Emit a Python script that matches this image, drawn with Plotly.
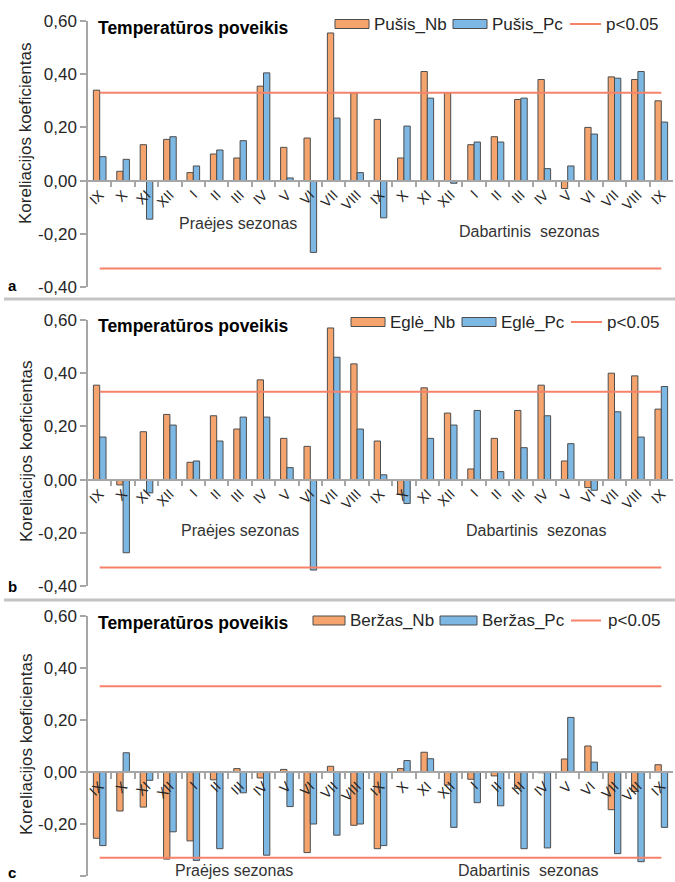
import plotly.graph_objects as go

# ---------------- data ----------------
MONTHS = ["IX", "X", "XI", "XII", "I", "II", "III", "IV", "V", "VI", "VII", "VIII",
          "IX", "X", "XI", "XII", "I", "II", "III", "IV", "V", "VI", "VII", "VIII", "IX"]

PUSIS_NB = [0.34, 0.035, 0.135, 0.155, 0.03, 0.10, 0.085, 0.355, 0.125, 0.16, 0.555, 0.33,
            0.23, 0.085, 0.41, 0.33, 0.135, 0.165, 0.305, 0.38, -0.03, 0.20, 0.39, 0.38, 0.30]
PUSIS_PC = [0.09, 0.08, -0.145, 0.165, 0.055, 0.115, 0.15, 0.405, 0.01, -0.27, 0.235, 0.03,
            -0.14, 0.205, 0.31, -0.01, 0.145, 0.145, 0.31, 0.045, 0.055, 0.175, 0.385, 0.41, 0.22]

EGLE_NB = [0.355, -0.02, 0.18, 0.245, 0.065, 0.24, 0.19, 0.375, 0.155, 0.125, 0.57, 0.435,
           0.145, -0.055, 0.345, 0.25, 0.04, 0.155, 0.26, 0.355, 0.07, -0.03, 0.40, 0.39, 0.265]
EGLE_PC = [0.16, -0.275, -0.05, 0.205, 0.07, 0.145, 0.235, 0.235, 0.045, -0.34, 0.46, 0.19,
           0.018, -0.09, 0.155, 0.205, 0.26, 0.03, 0.12, 0.24, 0.135, -0.04, 0.255, 0.16, 0.35]

BERZAS_NB = [-0.255, -0.15, -0.135, -0.335, -0.265, -0.03, 0.013, -0.023, 0.01, -0.31, 0.022, -0.205,
             -0.295, 0.013, 0.076, -0.05, -0.028, -0.015, -0.063, -0.003, 0.05, 0.10, -0.145, -0.075, 0.028]
BERZAS_PC = [-0.283, 0.074, -0.032, -0.23, -0.34, -0.295, -0.08, -0.32, -0.133, -0.20, -0.243, -0.20,
             -0.283, 0.044, 0.051, -0.213, -0.118, -0.13, -0.295, -0.292, 0.21, 0.038, -0.314, -0.345, -0.213]

P_CRIT = 0.33

Y_TICKVALS = [-0.4, -0.2, 0.0, 0.2, 0.4, 0.6]
Y_TICKTEXT = ["-0,40", "-0,20", "0,00", "0,20", "0,40", "0,60"]

PANEL_TITLE = "Temperatūros poveikis"
Y_TITLE = "Koreliacijos koeficientas"
SEASON_PREV = "Praėjes sezonas"
SEASON_CUR = "Dabartinis  sezonas"
PANEL_LETTERS = ["a", "b", "c"]
SERIES_NAMES = [("Pušis_Nb", "Pušis_Pc"), ("Eglė_Nb", "Eglė_Pc"), ("Beržas_Nb", "Beržas_Pc")]
SERIES_VALUES = [(PUSIS_NB, PUSIS_PC), (EGLE_NB, EGLE_PC), (BERZAS_NB, BERZAS_PC)]
LINE_NAME = "p<0.05"

# ---------------- style / layout ----------------
W, H = 675, 882
FONT = "Liberation Sans, Arial, sans-serif"
ORANGE = "#F4A46C"
BLUE = "#7DB7E4"
EDGE = "#4D4D4D"
RED = "#F7826A"
AXIS = "#A6A6A6"
TXT = "#262626"
Y_MIN, Y_MAX = -0.4, 0.6

# pixel rows (top, bottom) of each plot area
PANEL_PX = [(21, 287), (320, 586), (616, 876)]
X_DOM = [88 / W, 673 / W]


def py(p):
    return 1 - p / H


def px(p):
    return p / W


fig = go.Figure()
n = len(MONTHS)
xs = list(range(n))

layout_axes = {}
for i, ((top, bot), (nb_name, pc_name), (nb, pc)) in enumerate(zip(PANEL_PX, SERIES_NAMES, SERIES_VALUES)):
    k = "" if i == 0 else str(i + 1)
    xa, ya = "x" + k, "y" + k
    dom = [py(bot), py(top)]
    zero_pos = dom[0] + (0 - Y_MIN) / (Y_MAX - Y_MIN) * (dom[1] - dom[0])

    fig.add_trace(go.Bar(x=xs, y=nb, name=nb_name, marker=dict(color=ORANGE, line=dict(color=EDGE, width=1)),
                         xaxis=xa, yaxis=ya, showlegend=False))
    fig.add_trace(go.Bar(x=xs, y=pc, name=pc_name, marker=dict(color=BLUE, line=dict(color=EDGE, width=1)),
                         xaxis=xa, yaxis=ya, showlegend=False))
    fig.add_trace(go.Scatter(x=xs, y=[P_CRIT] * n, mode="lines", line=dict(color=RED, width=2),
                             xaxis=xa, yaxis=ya, showlegend=False, name=LINE_NAME))
    fig.add_trace(go.Scatter(x=xs, y=[-P_CRIT] * n, mode="lines", line=dict(color=RED, width=2),
                             xaxis=xa, yaxis=ya, showlegend=False, name=LINE_NAME))

    layout_axes["xaxis" + k] = dict(
        domain=X_DOM, range=[-0.5, n - 0.5], anchor="free", position=zero_pos, automargin=False,
        tickmode="array", tickvals=xs, ticktext=MONTHS, tickangle=-45,
        ticks="", showline=True, linecolor=AXIS, linewidth=1.5, showgrid=False, zeroline=False,
        tickfont=dict(family=FONT, size=14, color=TXT),
        minor=dict(tickmode="array", tickvals=[j + 0.5 for j in range(n - 1)],
                   ticks="outside", ticklen=6, tickcolor=AXIS, tickwidth=1.5, showgrid=False),
    )
    layout_axes["yaxis" + k] = dict(
        domain=dom, range=[Y_MIN, Y_MAX], anchor=xa, automargin=False,
        tickmode="array", tickvals=Y_TICKVALS, ticktext=Y_TICKTEXT,
        ticks="outside", ticklen=6, tickcolor=AXIS, tickwidth=1.5,
        showline=True, linecolor=AXIS, linewidth=1.5, showgrid=False, zeroline=False,
        tickfont=dict(family=FONT, size=17, color=TXT),
    )

fig.update_layout(**layout_axes)

ann = []
shapes = []

# panel titles, y titles, letters, season labels
TITLE_Y = [28, 326, 623]
YTITLE_Y = [134, 452, 745]
LETTER_Y = [285, 586, 872]
SEASON_Y = [(223, 232), (530, 530), (870, 870)]
SEASON_X = [(238, 529), (240, 536), (234, 528)]
for i in range(3):
    ann.append(dict(text=PANEL_TITLE, x=px(96), y=py(TITLE_Y[i]), xref="paper", yref="paper",
                    xanchor="left", yanchor="middle", showarrow=False,
                    font=dict(family=FONT, size=17.5, color="#000", weight="bold")))
    ann.append(dict(text=Y_TITLE, x=px(26), y=py(YTITLE_Y[i]), xref="paper", yref="paper",
                    textangle=-90, xanchor="center", yanchor="middle", showarrow=False,
                    font=dict(family=FONT, size=17, color=TXT)))
    ann.append(dict(text=PANEL_LETTERS[i], x=px(12), y=py(LETTER_Y[i]), xref="paper", yref="paper",
                    xanchor="center", yanchor="middle", showarrow=False,
                    font=dict(family=FONT, size=15, color="#000", weight="bold")))
    ann.append(dict(text=SEASON_PREV, x=px(SEASON_X[i][0]), y=py(SEASON_Y[i][0]), xref="paper", yref="paper",
                    xanchor="center", yanchor="middle", showarrow=False,
                    font=dict(family=FONT, size=16, color="#333")))
    ann.append(dict(text=SEASON_CUR, x=px(SEASON_X[i][1]), y=py(SEASON_Y[i][1]), xref="paper", yref="paper",
                    xanchor="center", yanchor="middle", showarrow=False,
                    font=dict(family=FONT, size=16, color="#333")))

# custom legends: (orange box x0,x1, text x, blue box x0,x1, text x, line x0,x1, text x, y center)
LEG = [
    (335, 369, 372, 453, 487, 490, 570, 601, 604, 24),
    (351, 385, 388, 462, 496, 499, 571, 602, 605, 322),
    (313, 345, 348, 440, 477, 480, 571, 601, 606, 620.5),
]
for i, (o0, o1, ot, b0, b1, bt, l0, l1, lt, yc) in enumerate(LEG):
    nb_name, pc_name = SERIES_NAMES[i]
    shapes.append(dict(type="rect", xref="paper", yref="paper", x0=px(o0), x1=px(o1),
                       y0=py(yc + 4.5), y1=py(yc - 4.5), fillcolor=ORANGE, line=dict(color=EDGE, width=1)))
    shapes.append(dict(type="rect", xref="paper", yref="paper", x0=px(b0), x1=px(b1),
                       y0=py(yc + 4.5), y1=py(yc - 4.5), fillcolor=BLUE, line=dict(color=EDGE, width=1)))
    shapes.append(dict(type="line", xref="paper", yref="paper", x0=px(l0), x1=px(l1),
                       y0=py(yc), y1=py(yc), line=dict(color=RED, width=2)))
    for tx, t in ((ot, nb_name), (bt, pc_name), (lt, LINE_NAME)):
        ann.append(dict(text=t, x=px(tx), y=py(yc), xref="paper", yref="paper",
                        xanchor="left", yanchor="middle", showarrow=False,
                        font=dict(family=FONT, size=17, color=TXT)))

# separators between panels
for ys in (299, 600):
    shapes.append(dict(type="line", xref="paper", yref="paper", x0=px(4), x1=1,
                       y0=py(ys), y1=py(ys), line=dict(color="#C4C4C4", width=3)))

fig.update_layout(
    width=W, height=H, margin=dict(l=0, r=0, t=0, b=0, autoexpand=False),
    paper_bgcolor="white", plot_bgcolor="white",
    barmode="group", bargap=0.46, bargroupgap=0.0,
    annotations=ann, shapes=shapes, showlegend=False,
    font=dict(family=FONT, color=TXT),
)

fig.write_html("out.html", config={"displayModeBar": False},
               post_script="document.body.style.margin='0px';document.body.style.overflow='hidden';")
